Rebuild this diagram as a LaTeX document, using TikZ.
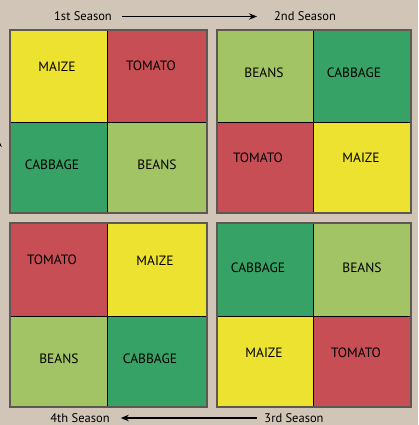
\documentclass[tikz,border=0pt]{standalone}
\usepackage{fontspec}
\setmainfont{PT Sans}
\usetikzlibrary{arrows.meta,positioning}
\definecolor{bgtan}{HTML}{D1C5B7}
\definecolor{cmaize}{HTML}{EDE22F}
\definecolor{ctomato}{HTML}{C74E54}
\definecolor{cbeans}{HTML}{A2C464}
\definecolor{ccabbage}{HTML}{37A265}
\definecolor{framegray}{HTML}{5E5852}

\begin{document}
\begin{tikzpicture}[
  x=1pt, y=-1pt,
  crop/.style={font=\fontsize{13.5}{15}\selectfont, inner sep=0pt},
  season/.style={font=\fontsize{12.5}{15}\selectfont, inner sep=1pt},
  flow/.style={-{Stealth[length=8pt,width=6.5pt]}, line width=1.1pt}
]
\fill[bgtan] (0,0) rectangle (418,425);
\useasboundingbox (0,0) rectangle (418,425);
\clip (0,0) rectangle (418,425);

% cells of the four plots
\foreach \xa/\ya/\xb/\yb/\col in {
  10/30/107/122/cmaize, 107/30/207/122/ctomato,
  10/122/107/213/ccabbage, 107/122/207/213/cbeans,
  217/30/313/122/cbeans, 313/30/411/122/ccabbage,
  217/122/313/213/ctomato, 313/122/411/213/cmaize,
  10/223/107/316/ctomato, 107/223/207/316/cmaize,
  10/316/107/407/cbeans, 107/316/207/407/ccabbage,
  217/223/313/316/ccabbage, 313/223/411/316/cbeans,
  217/316/313/407/cmaize, 313/316/411/407/ctomato} {
  \fill[\col] (\xa,\ya) rectangle (\xb,\yb);
}
\foreach \xa/\ya/\xm/\ym/\xb/\yb in {10/30/107/122/207/213, 217/30/313/122/411/213,
  10/223/107/316/207/407, 217/223/313/316/411/407} {
  \draw[line width=1pt] (\xm,\ya) -- (\xm,\yb);
  \draw[line width=1pt] (\xa,\ym) -- (\xb,\ym);
  \draw[framegray, line width=1.3pt] (\xa,\ya) rectangle (\xb,\yb);
}

% crop names
\node[crop] (maizeA) at (57,67) {MAIZE};
\node[crop] (tomatoA) at (151,66) {TOMATO};
\node[crop] (cabbageA) at (52,165) {CABBAGE};
\node[crop] (beansA) at (157,165) {BEANS};
\node[crop] (beansB) at (264,73) {BEANS};
\node[crop] (cabbageB) at (354,73) {CABBAGE};
\node[crop] (tomatoB) at (258,158) {TOMATO};
\node[crop] (maizeB) at (361,158) {MAIZE};
\node[crop] (tomatoD) at (52,260) {TOMATO};
\node[crop] (maizeD) at (155,261) {MAIZE};
\node[crop] (beansD) at (59,359) {BEANS};
\node[crop] (cabbageD) at (150,359) {CABBAGE};
\node[crop] (cabbageC) at (258,268) {CABBAGE};
\node[crop] (beansC) at (362,268) {BEANS};
\node[crop] (maizeC) at (264,353) {MAIZE};
\node[crop] (tomatoC) at (356,353) {TOMATO};

% seasons
\node[season] (first) at (83,16.5) {1st Season};
\node[season] (second) at (305,16.5) {2nd Season};
\node[season] (third) at (294,418) {3rd Season};
\node[season] (fourth) at (80,418) {4th Season};
\draw[flow, shorten <=9pt, shorten >=16pt] (first.east) -- (second.west);
\draw[flow, shorten <=6pt, shorten >=10pt] (third.west) -- (fourth.east);

% side arrows, cut by the edge
\coordinate (leftlow) at (-1.5,290);
\coordinate (lefttop) at (-1.5,139);
\coordinate (righttop) at (421.5,140);
\coordinate (rightlow) at (421.5,279);
\draw[flow] (leftlow) -- (lefttop);
\draw[flow] (righttop) -- (rightlow);
\end{tikzpicture}
\end{document}
